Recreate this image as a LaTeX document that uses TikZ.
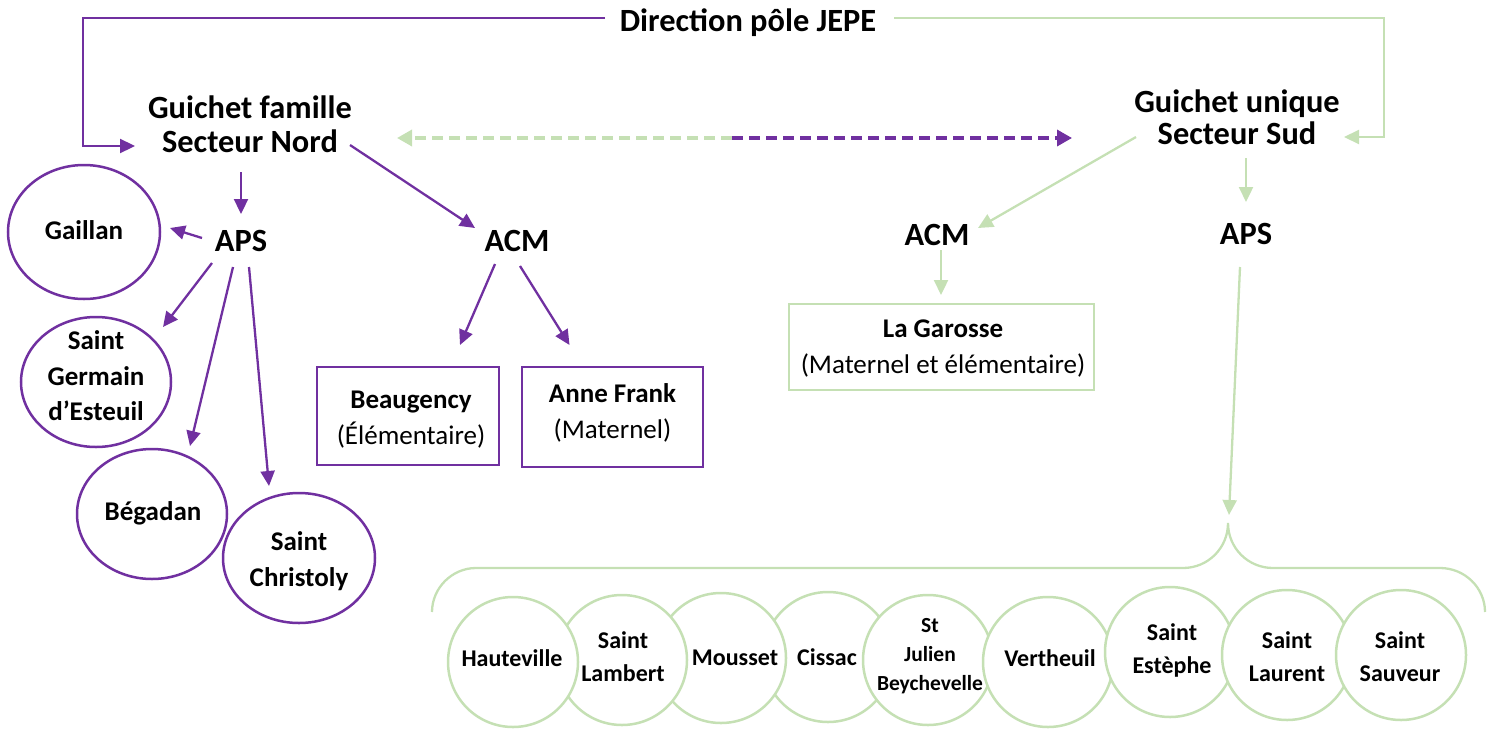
\documentclass[tikz,border=0pt]{standalone}
\usepackage{fontspec}
\setmainfont{Carlito}
\usetikzlibrary{arrows.meta,shapes.geometric}
\definecolor{jpurple}{HTML}{7030A0}
\definecolor{jgreen}{HTML}{C5E0B4}
\begin{document}
\begin{tikzpicture}[x=1pt,y=-1pt,
  head/.style={font=\fontsize{32.4pt}{34pt}\selectfont\bfseries, align=center, inner sep=0pt},
  headS/.style={font=\fontsize{32.4pt}{32pt}\selectfont\bfseries, align=center, inner sep=0pt},
  tipP/.style={-{Triangle[length=15pt,width=14pt]}},
  parr/.style={draw=jpurple, line width=2.3pt, tipP},
  garr/.style={draw=jgreen, line width=2.3pt, tipP},
  gline/.style={draw=jgreen, line width=2.3pt},
  pdash/.style={draw=jpurple, line width=3.4pt, dash pattern=on 11pt off 6pt, -{Triangle[length=15pt,width=16pt]}},
  gdash/.style={draw=jgreen, line width=3.4pt, dash pattern=on 11pt off 6pt, -{Triangle[length=15pt,width=16pt]}},
  lell/.style={ellipse, draw=jpurple, line width=2.5pt, fill=white, inner sep=0pt},
  ltext/.style={align=center, inner sep=0pt, font=\fontsize{27pt}{35.5pt}\selectfont\bfseries},
  bcirc/.style={circle, draw=jgreen, line width=2.5pt, fill=white, inner sep=0pt, minimum size=130pt},
  btext/.style={align=center, inner sep=0pt, font=\fontsize{24pt}{33pt}\selectfont\bfseries},
  pbox/.style={draw=jpurple, line width=2.5pt, inner sep=0pt},
  gbox/.style={draw=jgreen, line width=2.5pt, inner sep=0pt},
  boxtext/.style={align=center, inner sep=0pt, font=\fontsize{27pt}{36pt}\selectfont}
]
\useasboundingbox (0,0) rectangle (1495,731);

% headings
\node[head] (dir) at (748,23) {Direction pôle JEPE};
\node[head] (gn) at (250,124) {Guichet famille\\Secteur Nord};
\node[headS] (gs) at (1237,117) {Guichet unique\\Secteur Sud};
\node[head] (apsN) at (241,241) {APS};
\node[head] (acmN) at (517,241) {ACM};
\node[head] (acmS) at (937,235) {ACM};
\node[head] (apsS) at (1246,234) {APS};

% left ellipses
\node[lell, minimum width=152pt, minimum height=134pt] (g1) at (84,232) {};
\node[ltext] (tg1) at (84,230) {Gaillan};
\node[lell, minimum width=150pt, minimum height=130pt] (g2) at (96,382) {};
\node[ltext] (tg2) at (96,376) {Saint\\Germain\\d’Esteuil};
\node[lell, minimum width=150pt, minimum height=130pt] (g3) at (152,514) {};
\node[ltext] (tg3) at (153,513) {Bégadan};
\node[lell, minimum width=152pt, minimum height=130pt] (g4) at (299,558) {};
\node[ltext] (tg4) at (299,561) {Saint\\Christoly};

% boxes
\node[pbox, minimum width=182pt, minimum height=98pt] (b1) at (408,416) {};
\node[boxtext] (tb1) at (411,419.5) {\textbf{Beaugency}\\(Élémentaire)};
\node[pbox, minimum width=181pt, minimum height=100pt] (b2) at (612.5,417) {};
\node[boxtext] (tb2) at (612.5,412.5) {\textbf{Anne Frank}\\(Maternel)};
\node[gbox, minimum width=305pt, minimum height=86pt] (b3) at (941.5,347) {};
\node[boxtext] (tb3) at (943,349) {\textbf{La Garosse}\\(Maternel et élémentaire)};

% bottom circles (drawing order gives the overlaps)
\node[bcirc] (c4) at (828,657) {};
\node[bcirc] (c3) at (721,658) {};
\node[bcirc] (c2) at (622,660) {};
\node[bcirc] (c1) at (513,662) {};
\node[bcirc] (c5) at (928,660) {};
\node[bcirc] (c6) at (1048,662) {};
\node[bcirc] (c7) at (1170,652) {};
\node[bcirc] (c8) at (1287,655) {};
\node[bcirc] (c9) at (1401,655) {};
% their texts
\node[btext] (t1) at (512,658) {Hauteville};
\node[btext] (t2) at (623,657) {Saint\\Lambert};
\node[btext] (t3) at (735,658) {Mousset};
\node[btext] (t4) at (827,657) {Cissac};
\node[btext, font=\fontsize{21.5pt}{29pt}\selectfont\bfseries] (t5) at (930,656) {St\\Julien\\Beychevelle};
\node[btext] (t6) at (1050,658) {Vertheuil};
\node[btext] (t7) at (1172,650) {Saint\\Estèphe};
\node[btext] (t8) at (1287,657) {Saint\\Laurent};
\node[btext] (t9) at (1400,657) {Saint\\Sauveur};

% brace
\coordinate (brace) at (1228,523);
\draw[gline] (432,612) .. controls (432,588) and (452,568) .. (476,568) -- (1183,568)
  .. controls (1208,568) and (1228,548) .. (brace)
  .. controls (1228,548) and (1248,568) .. (1273,568) -- (1440,568)
  .. controls (1465,568) and (1485,588) .. (1485,612);

% direction connectors
\draw[parr] ([shift={(-143,-5)}]dir.center) -| ([shift={(-167,22)}]gn.center) -- ([shift={(-115,22)}]gn.center);
\draw[garr] ([shift={(146,-5)}]dir.center) -| ([shift={(147,20)}]gs.center) -- ([shift={(107,20)}]gs.center);

% dashed link
\coordinate (dmid) at (732,138);
\draw[gdash] (dmid) -- ([shift={(147,14)}]gn.center);
\draw[pdash] (dmid) -- ([shift={(-165,21)}]gs.center);

% north
\draw[parr] ([shift={(-9,48)}]gn.center) -- ([shift={(0,-27)}]apsN.center);
\draw[parr] ([shift={(100,21)}]gn.center) -- ([shift={(-42,-13)}]acmN.center);
\draw[parr] ([shift={(-39,-3)}]apsN.center) -- ([shift={(86,-4)}]g1.center);
\draw[parr] ([shift={(-29,22)}]apsN.center) -- ([shift={(67,-55)}]g2.center);
\draw[parr] ([shift={(-8,26)}]apsN.center) -- ([shift={(38,-68)}]g3.center);
\draw[parr] ([shift={(8,26)}]apsN.center) -- ([shift={(-30,-72)}]g4.center);
\draw[parr] ([shift={(-22,23)}]acmN.center) -- ([shift={(52,-71)}]b1.center);
\draw[parr] ([shift={(3,25)}]acmN.center) -- ([shift={(-43,-72)}]b2.center);

% south
\draw[garr] ([shift={(-101,20)}]gs.center) -- ([shift={(41,-7)}]acmS.center);
\draw[garr] ([shift={(9,41)}]gs.center) -- ([shift={(0,-32)}]apsS.center);
\draw[garr] ([shift={(4,15)}]acmS.center) -- ([shift={(-0.5,-52)}]b3.center);
\draw[garr] ([shift={(-6,33)}]apsS.center) -- ([shift={(1,-8)}]brace);
\end{tikzpicture}
\end{document}
